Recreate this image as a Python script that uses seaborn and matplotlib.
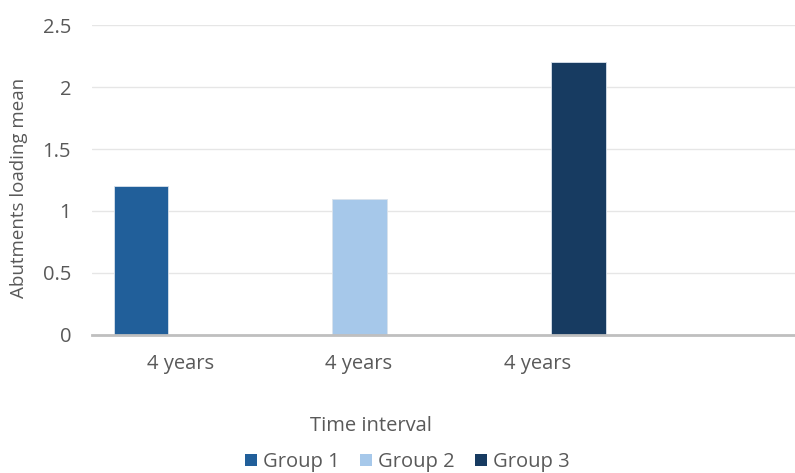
import matplotlib
matplotlib.use("Agg")
import matplotlib.pyplot as plt
import seaborn as sns
import pandas as pd
from matplotlib.patches import Patch

# Data
groups = ["Group 1", "Group 2", "Group 3"]
loading_mean = [1.2, 1.1, 2.2]
tick_labels = ["4 years", "4 years", "4 years"]
colors = ["#215F9A", "#A6C8EA", "#173B61"]

df = pd.DataFrame({"group": groups, "value": loading_mean})

sns.set_theme(style="white")
plt.rcParams["font.family"] = ["Open Sans", "DejaVu Sans"]
text_color = "#595959"

fig = plt.figure(figsize=(7.95, 4.73), dpi=100)
ax = fig.add_axes([0.1157, 0.2918, 0.8843, 0.6553])

sns.barplot(data=df, x="group", y="value", hue="group", order=groups,
            hue_order=groups, palette=colors, width=0.25, dodge=False,
            legend=False, ax=ax, edgecolor="#D9E2EC", linewidth=0.6,
            saturation=1)

ax.set_ylim(0, 2.5)
ax.set_xlim(-0.224, 2.99)
ax.set_yticks([0, 0.5, 1, 1.5, 2, 2.5])
ax.set_yticklabels(["0", "0.5", "1", "1.5", "2", "2.5"])
ax.yaxis.grid(True, color="#E6E6E6", linewidth=1.0)
ax.set_axisbelow(True)

# category labels sit slightly off the bar centres
ax.set_xticks([0.183, 0.995, 1.813])
ax.set_xticklabels(tick_labels)
ax.tick_params(axis="x", length=0, pad=14, labelsize=14.5, colors=text_color)
ax.tick_params(axis="y", length=0, pad=15, labelsize=14.5, colors=text_color)

for side in ["top", "right", "left"]:
    ax.spines[side].set_visible(False)
ax.spines["bottom"].set_color("#BFBFBF")
ax.spines["bottom"].set_linewidth(2.0)

ax.set_xlabel("")
ax.set_ylabel("")
fig.text(19 / 795, 1 - 188 / 473, "Abutments loading mean", rotation=90,
         ha="center", va="center", fontsize=13.5, color=text_color)
fig.text(371 / 795, 1 - 426 / 473, "Time interval", ha="center",
         va="center", fontsize=14.5, color=text_color)

handles = [Patch(facecolor=c, edgecolor="none") for c in colors]
fig.legend(handles, groups, loc="center", bbox_to_anchor=(407 / 795, 1 - 462 / 473),
           ncol=3, frameon=False, fontsize=14.5, labelcolor=text_color,
           handlelength=0.6, handleheight=0.6, handletextpad=0.3,
           columnspacing=1.0, borderpad=0)

fig.savefig("out.png", dpi=100)
